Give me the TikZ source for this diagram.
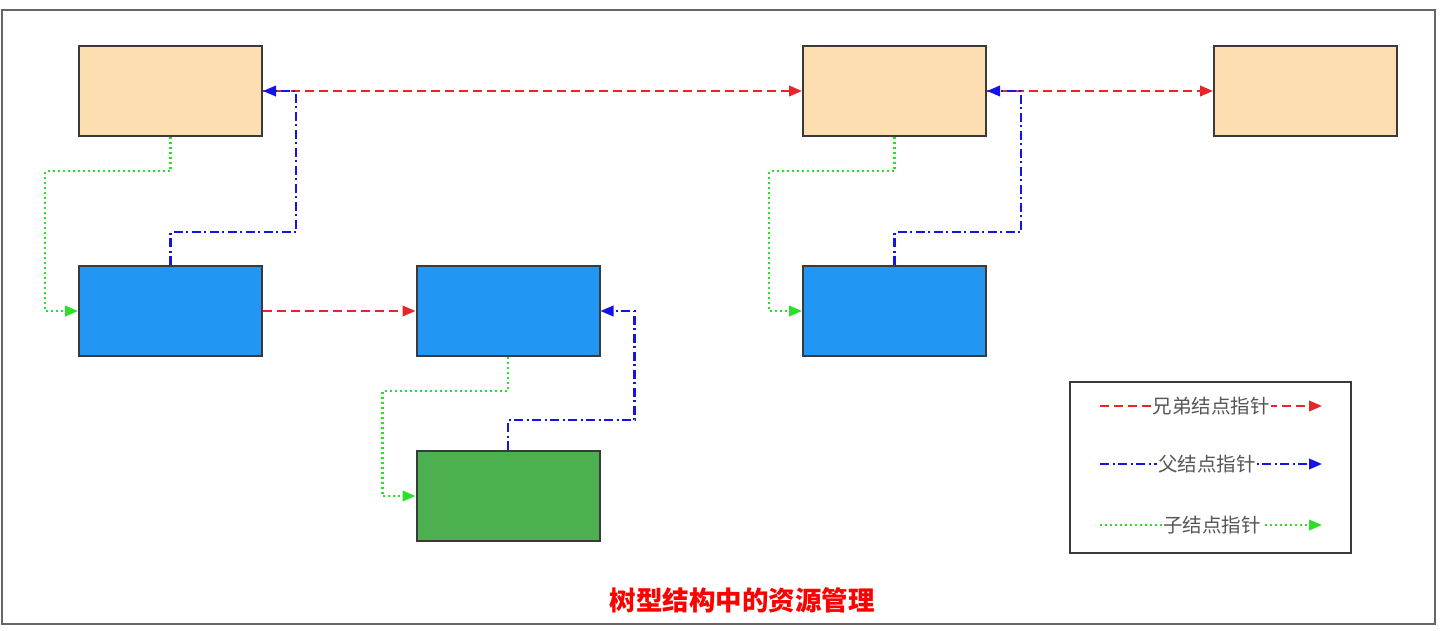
\documentclass[tikz,border=0pt]{standalone}
\usepackage{fontspec}
\newfontfamily\cjk{Noto Sans CJK SC}
\usetikzlibrary{arrows.meta,calc}
\definecolor{tanfill}{HTML}{FCDEB0}
\definecolor{bluefill}{HTML}{2196F3}
\definecolor{greenfill}{HTML}{4CAF50}
\definecolor{boxline}{HTML}{3A3A3A}
\definecolor{redline}{HTML}{E8262A}
\definecolor{blueline}{HTML}{1414E6}
\definecolor{greenline}{HTML}{28E028}
\definecolor{legtext}{HTML}{555555}
\tikzset{
  blk/.style={draw=boxline, line width=2pt, inner sep=0pt, minimum width=183pt, minimum height=90pt},
  tanbox/.style={blk, fill=tanfill},
  bluebox/.style={blk, fill=bluefill},
  greenbox/.style={blk, fill=greenfill},
  sib/.style={draw=redline, line width=2.2pt, dash pattern=on 9pt off 5pt, -{Triangle[length=13pt,width=10.5pt]}},
  par/.style={draw=blueline, line width=2.2pt, dash pattern=on 9pt off 3.5pt on 2pt off 3.5pt, -{Triangle[length=13pt,width=10.5pt]}},
  chi/.style={draw=greenline, line width=2.2pt, dash pattern=on 2pt off 3pt, -{Triangle[length=13pt,width=10.5pt]}},
  legtxt/.style={fill=white, inner sep=1pt, text=legtext, font=\cjk\fontsize{19.5}{21}\selectfont},
}
\begin{document}
\begin{tikzpicture}[x=1pt,y=-1pt]
\useasboundingbox[fill=white] (0,0) rectangle (1443,630);
\draw[draw=gray!80!black, line width=2.2pt] (2,10) rectangle (1435,624);
% boxes
\node[tanbox] (A) at (170.5,91) {};
\node[tanbox] (B) at (894.5,91) {};
\node[tanbox] (C) at (1305.5,91) {};
\node[bluebox] (D) at (170.5,311) {};
\node[bluebox] (E) at (508,311) {};
\node[bluebox] (F) at (894.5,311) {};
\node[greenbox] (G) at (508,496) {};
% sibling pointers
\draw[sib] (A.east) -- (B.west);
\draw[sib] (B.east) -- (C.west);
\draw[sib] (D.east) -- (E.west);
% parent pointers
\draw[par] (D.north) -- ++(0,-33) -| ($(A.east)+(33,0)$) -- (A.east);
\draw[par] (F.north) -- ++(0,-33) -| ($(B.east)+(34,0)$) -- (B.east);
\draw[par] (G.north) -- ++(0,-30) -| ($(E.east)+(34,0)$) -- (E.east);
% child pointers
\draw[chi] (A.south) -- ++(0,34) -| ($(D.west)+(-33,0)$) -- (D.west);
\draw[chi] (B.south) -- ++(0,34) -| ($(F.west)+(-33,0)$) -- (F.west);
\draw[chi] (E.south) -- ++(0,34) -| ($(G.west)+(-33,0)$) -- (G.west);
% legend
\node[draw=boxline, line width=1.8pt, inner sep=0pt, minimum width=281pt, minimum height=171pt] (L) at (1210.5,467.5) {};
\coordinate (l1s) at (1100,406);
\coordinate (l1e) at (1322,406);
\coordinate (l2s) at (1100,464);
\coordinate (l2e) at (1322,464);
\coordinate (l3s) at (1100,525);
\coordinate (l3e) at (1322,525);
\draw[sib] (l1s) -- (l1e);
\draw[par] (l2s) -- (l2e);
\draw[chi] (l3s) -- (l3e);
\node[legtxt] (t1) at (1211,406) {兄弟结点指针};
\node[legtxt] (t2) at (1207,464) {父结点指针};
\node[legtxt] (t3) at (1212,525) {子结点指针};
% title
\node[text=red, font=\cjk\bfseries\fontsize{26.5}{30}\selectfont] (title) at (742,600) {树型结构中的资源管理};
\end{tikzpicture}
\end{document}
